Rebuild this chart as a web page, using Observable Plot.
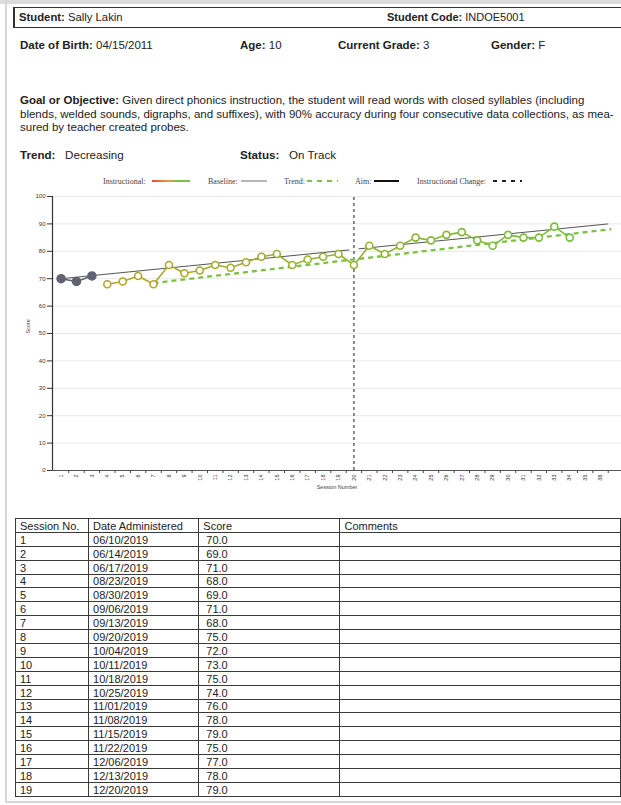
<!DOCTYPE html>
<html>
<head>
<meta charset="utf-8">
<script src="https://cdn.jsdelivr.net/npm/d3@7"></script>
<script src="https://cdn.jsdelivr.net/npm/@observablehq/plot@0.6"></script>
<style>
  html, body { margin: 0; padding: 0; }
  body { width: 621px; height: 805px; overflow: hidden; position: relative; background: #fff;
         font-family: "Liberation Sans", Arial, sans-serif; color: #222; font-size: 11px; }
  .abs { position: absolute; white-space: nowrap; line-height: 13px; }
  b { font-weight: bold; }
  #topband { position: absolute; left: 0; top: 0; width: 621px; height: 4px; background: #dcdcdc; }
  #leftline { position: absolute; left: 5px; top: 0; width: 2px; height: 802px; background: #d6d6d6; }
  #botline { position: absolute; left: 5px; top: 801px; width: 640px; height: 2px; background: #d6d6d6; }
  #box { position: absolute; left: 13px; top: 7px; width: 660px; height: 19px; border: 1.5px solid #333; border-left-width: 2px; }
  .legend { position: absolute; top: 176px; font-family: "Liberation Serif", "Times New Roman", serif; font-size: 8px; color: #444; line-height: 11px; white-space: nowrap; }
  .lsvg { position: absolute; top: 178px; }
  #chart { position: absolute; left: 0; top: 186px; }
  #tbl { position: absolute; left: 15px; top: 518px; border-collapse: collapse; font-size: 11px; color: #222; }
  #tbl td { border: 1.5px solid #3a3a3a; height: 12.9px; line-height: 12px; padding: 0 0 0 4px; vertical-align: bottom; white-space: nowrap; }
</style>
</head>
<body>
<div id="topband"></div>
<div id="leftline"></div>
<div id="botline"></div>
<div id="box"></div>

<div class="abs" style="left:19px; top:11px; font-size:11.3px;"><b>Student:</b> Sally Lakin</div>
<div class="abs" style="left:387px; top:11px;"><b>Student Code:</b> INDOE5001</div>

<div class="abs" style="left:20px; top:39px; font-size:11.5px;"><b>Date of Birth:</b> 04/15/2011</div>
<div class="abs" style="left:240px; top:39px; font-size:11.5px;"><b>Age:</b> 10</div>
<div class="abs" style="left:338px; top:39px; font-size:11.5px;"><b>Current Grade:</b> 3</div>
<div class="abs" style="left:491px; top:39px; font-size:11.5px;"><b>Gender:</b> F</div>

<div class="abs" style="left:20px; top:94px; line-height:13.5px; font-size:11.5px;">
<b>Goal or Objective:</b> Given direct phonics instruction, the student will read words with closed syllables (including<br>
blends, welded sounds, digraphs, and suffixes), with 90% accuracy during four consecutive data collections, as mea-<br>
sured by teacher created probes.
</div>

<div class="abs" style="left:20px; top:148px; font-size:11.6px;"><b>Trend:</b>&nbsp;&nbsp;&nbsp;Decreasing</div>
<div class="abs" style="left:240px; top:148px; font-size:11.6px;"><b>Status:</b>&nbsp;&nbsp;&nbsp;On Track</div>

<!-- legend -->
<div class="legend" style="left:103px;">Instructional:</div>
<svg class="lsvg" style="left:152px" width="40" height="6"><defs><linearGradient id="g"><stop offset="0" stop-color="#e84a3c"/><stop offset="0.45" stop-color="#ef9a3a"/><stop offset="0.65" stop-color="#7cc242"/><stop offset="1" stop-color="#7cc242"/></linearGradient></defs><rect x="0" y="2" width="38" height="2" fill="url(#g)"/></svg>
<div class="legend" style="left:208px;">Baseline:</div>
<svg class="lsvg" style="left:241px" width="28" height="6"><line x1="0" y1="3" x2="26" y2="3" stroke="#9c9cab" stroke-width="1.5"/></svg>
<div class="legend" style="left:284px;">Trend:</div>
<svg class="lsvg" style="left:307px" width="32" height="6"><line x1="0" y1="3" x2="31" y2="3" stroke="#7cc242" stroke-width="2" stroke-dasharray="5,5"/></svg>
<div class="legend" style="left:355px;">Aim:</div>
<svg class="lsvg" style="left:374px" width="27" height="6"><line x1="0" y1="3" x2="25" y2="3" stroke="#111" stroke-width="2"/></svg>
<div class="legend" style="left:417px;">Instructional Change:</div>
<svg class="lsvg" style="left:493px" width="31" height="6"><line x1="0" y1="3" x2="29" y2="3" stroke="#222" stroke-width="2" stroke-dasharray="4,5"/></svg>

<div id="chart"></div>
<table id="tbl"></table>

<script>
// ---- data ----
const tableSessions = [1,2,3,4,5,6,7,8,9,10,11,12,13,14,15,16,17,18,19];
const tableDates = ["06/10/2019","06/14/2019","06/17/2019","08/23/2019","08/30/2019","09/06/2019","09/13/2019","09/20/2019","10/04/2019","10/11/2019","10/18/2019","10/25/2019","11/01/2019","11/08/2019","11/15/2019","11/22/2019","12/06/2019","12/13/2019","12/20/2019"];
const tableScores = [70,69,71,68,69,71,68,75,72,73,75,74,76,78,79,75,77,78,79];

const baselineSessions = [1,2,3];
const baselineScores = [70,69,71];

const instrSessions = [4,5,6,7,8,9,10,11,12,13,14,15,16,17,18,19,20,21,22,23,24,25,26,27,28,29,30,31,32,33,34];
const instrScores   = [68,69,71,68,75,72,73,75,74,76,78,79,75,77,78,79,75,82,79,82,85,84,86,87,84,82,86,85,85,89,85];

const aimStartX = [1, 20.3];
const aimStartY = [70, 80.9];
const aimEndX   = [19.7, 36.5];
const aimEndY   = [80.5, 90];

const trendX = [7, 36.7];
const trendY = [68.4, 88.1];

const changeSession = [20];

const xTickLabels = [1,2,3,4,5,6,7,8,9,10,11,12,13,14,15,16,17,18,19,20,21,22,23,24,25,26,27,28,29,30,31,32,33,34,35,36];
const yTicks = [0,10,20,30,40,50,60,70,80,90,100];
const xDomain = [0.444, 37.36];

// ---- table ----
const tbl = d3.select("#tbl");
const hdr = tbl.append("tr");
const widths = [69, 107, 148, 300];
["Session No.","Date Administered","Score","Comments"].forEach((h,i) =>
  hdr.append("td").style("width", widths[i] + "px").text(h));
tableSessions.forEach((s,i) => {
  const tr = tbl.append("tr");
  tr.append("td").text(s);
  tr.append("td").text(tableDates[i]);
  tr.append("td").style("padding-left","7px").text(tableScores[i].toFixed(1));
  tr.append("td").text("");
});

// ---- chart ----
const baseline = baselineSessions.map((s,i) => ({s, v: baselineScores[i]}));
const instr = instrSessions.map((s,i) => ({s, v: instrScores[i]}));
const segs = instr.slice(0,-1).map((d,i) => ({x1: d.s, y1: d.v, x2: instr[i+1].s, y2: instr[i+1].v, c: (d.s + instr[i+1].s)/2}));
const aim = aimStartX.map((x,i) => ({x1: x, y1: aimStartY[i], x2: aimEndX[i], y2: aimEndY[i]}));
const trend = [{x1: trendX[0], y1: trendY[0], x2: trendX[1], y2: trendY[1]}];

const chart = Plot.plot({
  width: 621,
  height: 314,
  marginLeft: 52,
  marginRight: 0,
  marginTop: 10,
  marginBottom: 30,
  x: {domain: xDomain},
  y: {domain: [0, 100]},
  color: {type: "linear", domain: [4, 34], range: ["#b5a52a", "#76bf3e"]},
  style: {fontFamily: "'Liberation Sans', Arial, sans-serif", fontSize: "6px", background: "transparent", color: "#333", overflow: "visible"},
  marks: [
    Plot.gridY(yTicks, {stroke: "#e8e8e8", strokeOpacity: 1}),
    Plot.axisY(yTicks, {tickSize: 5, tickPadding: 2, fontSize: 6, label: null, stroke: "#333"}),
    Plot.axisX(xTickLabels.map(s => s + 0.5), {tickSize: 3, tickFormat: () => "", label: null, stroke: "#444"}),
    Plot.axisX(xTickLabels, {tickSize: 0, tickPadding: 4, tickRotate: -90, fontSize: 5.5, label: null}),
    Plot.ruleY([0], {stroke: "#555", strokeWidth: 1}),
    Plot.ruleX([xDomain[0]], {y1: 0, y2: 100, stroke: "#333", strokeWidth: 1.2}),
    Plot.ruleX(changeSession, {y1: 0, y2: 100, stroke: "#666", strokeWidth: 1.5, strokeDasharray: "3,3"}),
    Plot.link(aim, {x1: "x1", y1: "y1", x2: "x2", y2: "y2", stroke: "#555", strokeWidth: 1}),
    Plot.link(trend, {x1: "x1", y1: "y1", x2: "x2", y2: "y2", stroke: "#7cc242", strokeWidth: 2.3, strokeDasharray: "5,4"}),
    Plot.line(baseline, {x: "s", y: "v", stroke: "#5f6270", strokeWidth: 1.5}),
    Plot.dot(baseline, {x: "s", y: "v", r: 4, fill: "#5f6270", stroke: "#5f6270"}),
    Plot.link(segs, {x1: "x1", y1: "y1", x2: "x2", y2: "y2", stroke: "c", strokeWidth: 1.6}),
    Plot.dot(instr, {x: "s", y: "v", r: 3.5, fill: "white", stroke: "s", strokeWidth: 1.6}),
    Plot.text(["Score"], {frameAnchor: "left", dx: -24, rotate: -90, fontSize: 5.5, fill: "#444"}),
    Plot.text(["Session Number"], {frameAnchor: "bottom", dy: 18, fontSize: 5.5, fill: "#444"})
  ]
});
document.getElementById("chart").appendChild(chart);
</script>
</body>
</html>
